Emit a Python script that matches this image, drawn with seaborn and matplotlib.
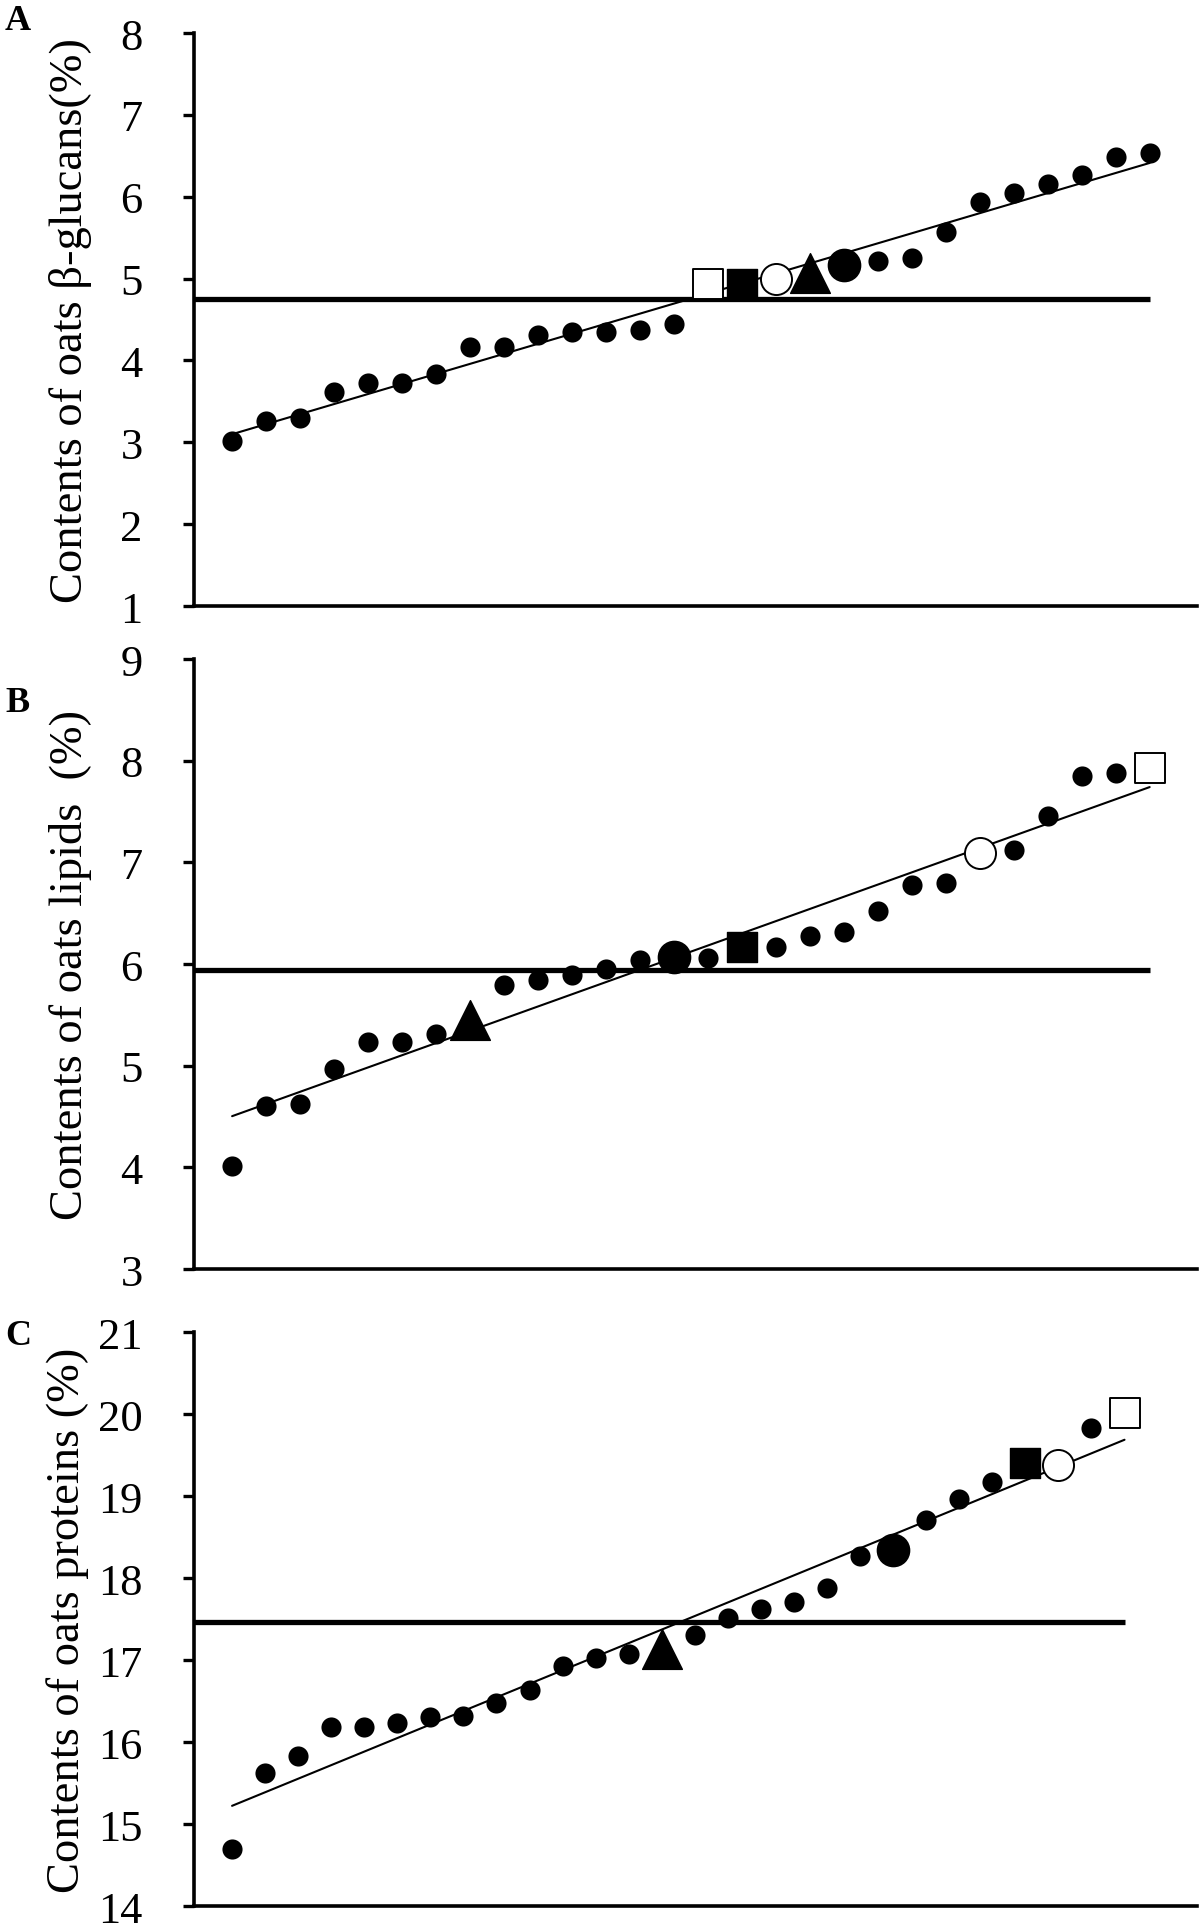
import numpy as np
import pandas as pd
import seaborn as sns
import matplotlib
matplotlib.use("Agg")
import matplotlib.pyplot as plt

# sorted contents, 28 samples per panel
glucans = [3.01, 3.26, 3.30, 3.62, 3.73, 3.72, 3.83, 4.17, 4.16, 4.31, 4.35, 4.35, 4.37, 4.44,
           4.93, 4.94, 5.00, 5.07, 5.17, 5.22, 5.25, 5.57, 5.93, 6.04, 6.15, 6.26, 6.49, 6.53]
lipids = [4.01, 4.60, 4.62, 4.97, 5.23, 5.23, 5.31, 5.45, 5.79, 5.84, 5.89, 5.95, 6.04, 6.07,
          6.06, 6.17, 6.17, 6.28, 6.32, 6.52, 6.78, 6.80, 7.09, 7.12, 7.46, 7.85, 7.88, 7.93]
proteins = [14.69, 15.62, 15.83, 16.19, 16.19, 16.23, 16.30, 16.32, 16.48, 16.63, 16.93, 17.03, 17.07, 17.13,
            17.31, 17.51, 17.62, 17.71, 17.88, 18.27, 18.34, 18.71, 18.96, 19.17, 19.40, 19.38, 19.83, 20.01]

# reference level (thick horizontal line)
glucans_ref = 4.75
lipids_ref = 5.94
proteins_ref = 17.46

# positions (0-based) of the highlighted samples:
# open square, filled square, open circle, triangle, big circle
glucans_special = [14, 15, 16, 17, 18]
lipids_special = [27, 15, 22, 7, 13]
proteins_special = [27, 24, 25, 13, 20]

panels = [
    ("A", glucans, glucans_ref, glucans_special, "Contents of oats β-glucans(%)", (1, 8), (-0.12, 29.4)),
    ("B", lipids, lipids_ref, lipids_special, "Contents of oats lipids  (%)", (3, 9), (-0.12, 29.4)),
    ("C", proteins, proteins_ref, proteins_special, "Contents of oats proteins (%)", (14, 21), (-0.15, 30.2)),
]

sns.set_style("ticks")
plt.rcParams["font.family"] = ["Liberation Serif", "DejaVu Serif"]
for key in ["text.color", "axes.labelcolor", "xtick.color", "ytick.color", "axes.edgecolor"]:
    plt.rcParams[key] = "black"

fig = plt.figure(figsize=(12, 19.24), dpi=100)
boxes = [[0.1617, 0.6845, 0.836, 0.2978],
         [0.1617, 0.3399, 0.836, 0.3170],
         [0.1617, 0.0088, 0.836, 0.2983]]
letter_y = [0.9886, 0.6346, 0.3051]
label_x = [-0.102, -0.102, -0.105]

special_styles = [
    dict(marker="s", s=470, facecolor="white", edgecolor="black", linewidth=1.4),
    dict(marker="s", s=490, facecolor="black", edgecolor="black", linewidth=1.0),
    dict(marker="o", s=500, facecolor="white", edgecolor="black", linewidth=1.4),
    dict(marker="^", s=820, facecolor="black", edgecolor="black", linewidth=1.0),
    dict(marker="o", s=540, facecolor="black", edgecolor="black", linewidth=1.0),
]

for (letter, vals, ref, special, ylabel, ylim, xlim), box, ly, lx in zip(panels, boxes, letter_y, label_x):
    ax = fig.add_axes(box)
    df = pd.DataFrame({"x": np.arange(1, len(vals) + 1), "y": vals})
    plain = df.drop(index=special)

    ax.hlines(ref, xlim[0], df["x"].iloc[-1], color="black", linewidth=3.8, zorder=1)
    sns.regplot(data=df, x="x", y="y", ax=ax, scatter=False, ci=None, truncate=True,
                line_kws=dict(color="black", linewidth=1.5, zorder=2))
    sns.scatterplot(data=plain, x="x", y="y", ax=ax, color="black", s=210,
                    edgecolor="black", linewidth=0, zorder=3)
    for idx, st in zip(special, special_styles):
        sns.scatterplot(data=df.iloc[[idx]], x="x", y="y", ax=ax, zorder=4, **st)

    ax.set_xlim(*xlim)
    ax.set_ylim(*ylim)
    ax.set_yticks(range(ylim[0], ylim[1] + 1))
    ax.set_xticks([])
    ax.set_xlabel("")
    ax.set_ylabel(ylabel, fontsize=33.5)
    ax.yaxis.set_label_coords(lx, 0.5)
    ax.tick_params(axis="y", labelsize=32, length=8, width=2.4, direction="out", pad=29)
    for sp in ["left", "bottom"]:
        ax.spines[sp].set_linewidth(2.6)
        ax.spines[sp].set_color("black")
    sns.despine(ax=ax)
    fig.text(0.015, ly, letter, fontsize=26, fontweight="bold", ha="center", va="center")

fig.savefig("out.png", dpi=100)
